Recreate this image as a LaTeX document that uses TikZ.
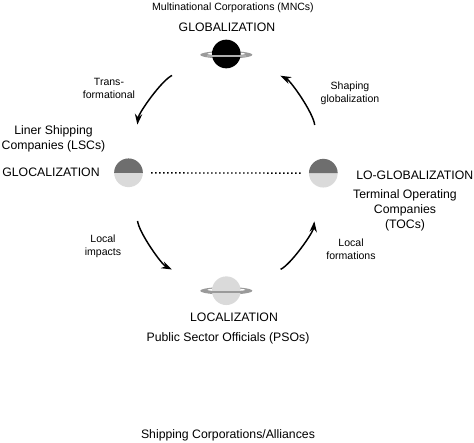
\documentclass[tikz,border=0pt]{standalone}
\usepackage{fontspec}
\setmainfont{Liberation Sans}
\usetikzlibrary{arrows.meta}
\definecolor{moon}{HTML}{DADADA}
\definecolor{dusk}{HTML}{6E6E6E}
\definecolor{band}{HTML}{9A9A9A}

\begin{document}
\begin{tikzpicture}[x=0.75pt,y=-0.75pt,font=\fontsize{9.2pt}{11.25pt}\selectfont,
  lab/.style={align=center,inner sep=0pt},
  small/.style={lab,font=\fontsize{7.9pt}{9.75pt}\selectfont},
  ar/.style={-{Stealth[length=8pt,width=5.5pt]},line width=1.1pt,bend right=29,looseness=0.5},
  disc/.style={circle,minimum size=21.5pt,inner sep=0pt,fill=#1},
  poledisc/.style={disc=#1,outer sep=33pt},
  sidedisc/.style={disc=#1,outer sep=26pt},
]
\useasboundingbox (0,0) rectangle (474,442);

% the four stages
\fill[band] (226.3,54.8) ellipse (26 and 3.8);
\fill[white] (226.3,53.8) ellipse (19 and 1.5);
\node[poledisc=black] at (226.3,54) (glob) {};
\draw[band!80,line width=1.4pt] (207,56) -- (246,56);

\fill[band] (226.3,290.8) ellipse (26 and 3.8);
\fill[white] (226.3,289.8) ellipse (19 and 1.5);
\node[poledisc=moon] at (226.3,290.7) (loc) {};
\draw[band,line width=1.4pt] (207,292) -- (246,292);

\node[sidedisc=moon] at (128.5,172.8) (gloc) {};
\fill[dusk] ([xshift=-10.75pt]gloc.center) arc (180:0:10.75pt) -- cycle;
\node[sidedisc=moon] at (323.3,173.2) (logl) {};
\fill[dusk] ([xshift=-10.75pt]logl.center) arc (180:0:10.75pt) -- cycle;

% labels
\node[lab,font=\fontsize{7.9pt}{10pt}\selectfont] at (233,8) (mnc) {Multinational Corporations (MNCs)};
\node[lab] at (227,27) (globt) {GLOBALIZATION};
\node[lab] at (53.5,138.5) (lsc) {Liner Shipping\\Companies (LSCs)};
\node[lab] at (51,172.5) (gloct) {GLOCALIZATION};
\node[lab,anchor=west] at (356,175) (loglt) {LO-GLOBALIZATION};
\node[lab] at (405,210) (toc) {Terminal Operating\\Companies\\(TOCs)};
\node[lab] at (234,317.5) (loct) {LOCALIZATION};
\node[lab] at (228,338.5) (pso) {Public Sector Officials (PSOs)};
\node[lab] at (228,435) (ship) {Shipping Corporations/Alliances};

\node[small] at (109,88) (trans) {Trans-\\formational};
\node[small] at (350,93.5) (shap) {Shaping\\globalization};
\node[small] at (103,246.5) (impact) {Local\\impacts};
\node[small] at (351,249.5) (form) {Local\\formations};

% cycle
\draw[ar] (glob) to (gloc);
\draw[ar] (gloc) to (loc);
\draw[ar] (loc) to (logl);
\draw[ar] (logl) to (glob);
\draw[line width=1pt,dotted,shorten <=17pt,shorten >=17pt] (gloc.center) -- (logl.center);
\end{tikzpicture}
\end{document}
